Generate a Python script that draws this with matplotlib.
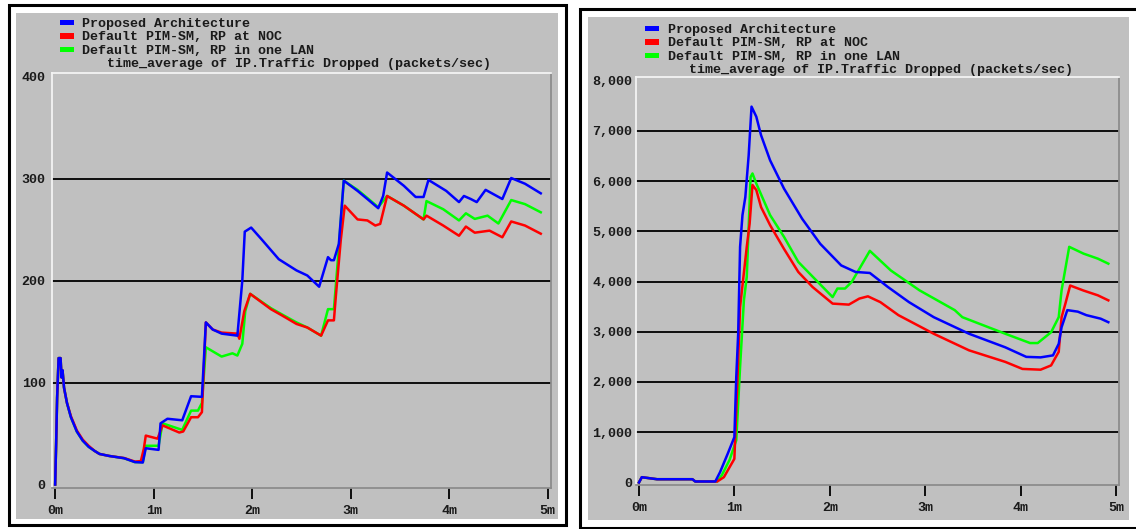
import matplotlib
matplotlib.use("Agg")
import matplotlib.pyplot as plt
from matplotlib.patches import Rectangle

# ---------------- data ----------------
series_names = ["Proposed Architecture", "Default PIM-SM, RP at NOC", "Default PIM-SM, RP in one LAN"]
series_colors = ["#0000FF", "#FF0000", "#00FF00"]
subtitle = "time_average of IP.Traffic Dropped (packets/sec)"

x_ticks = [0, 1, 2, 3, 4, 5]
x_tick_labels = ["0m", "1m", "2m", "3m", "4m", "5m"]

left_yticks = [0, 100, 200, 300, 400]
right_yticks = [0, 1000, 2000, 3000, 4000, 5000, 6000, 7000, 8000]

# Left chart (minutes, packets/sec)
left_blue_t = [0, 0.01, 0.02, 0.035, 0.055, 0.065, 0.075, 0.09, 0.12, 0.16, 0.22, 0.28, 0.34, 0.40, 0.45, 0.55,
               0.70, 0.81, 0.89, 0.92, 1.05, 1.07, 1.14, 1.29, 1.38, 1.49, 1.53, 1.60, 1.69, 1.85, 1.90, 1.925,
               1.99, 2.10, 2.27, 2.45, 2.56, 2.68, 2.77, 2.80, 2.83, 2.88, 2.93, 3.07, 3.17, 3.28, 3.33, 3.37,
               3.54, 3.66, 3.74, 3.79, 3.97, 4.10, 4.15, 4.22, 4.28, 4.37, 4.54, 4.63, 4.77, 4.93]
left_blue_v = [0, 40, 85, 124, 124, 105, 112, 95, 80, 66, 52, 43, 37, 33, 30, 28,
               25.8, 22, 21.6, 35.6, 34, 60, 64.5, 63, 86.6, 86, 159, 152, 148, 146, 200, 248,
               252, 240, 221, 210, 205, 194, 223, 220, 220, 236, 298, 288, 280, 271, 283, 306,
               293, 282, 282, 298.7, 288, 277, 283, 280, 277, 289, 280, 300.6, 295, 285.6]

left_red_t = [0, 0.01, 0.02, 0.035, 0.055, 0.065, 0.075, 0.09, 0.12, 0.16, 0.22, 0.28, 0.34, 0.40, 0.45, 0.55,
              0.70, 0.81, 0.87, 0.90, 0.92, 1.04, 1.09, 1.26, 1.30, 1.38, 1.45, 1.49, 1.53, 1.60, 1.69, 1.85,
              1.87, 1.92, 1.98, 2.19, 2.30, 2.45, 2.56, 2.70, 2.77, 2.83, 2.85, 2.90, 2.94, 3.07, 3.17, 3.25,
              3.30, 3.37, 3.54, 3.74, 3.77, 3.94, 4.10, 4.17, 4.26, 4.41, 4.54, 4.63, 4.77, 4.93]
left_red_v = [0, 40, 85, 124, 124, 105, 112, 95, 80, 67, 53, 44, 38, 33, 30, 28,
              26, 22.5, 23, 35, 48, 45, 58, 51, 52, 66, 66, 71, 159, 152, 149, 148,
              143, 170, 187, 172, 166, 157.5, 154, 146, 161, 161, 185, 240, 273.5, 260, 259, 254,
              255.6, 283, 273.5, 260, 263.7, 254, 244, 253, 247, 249, 242.5, 258, 254, 246]

left_green_t = [0, 0.01, 0.02, 0.035, 0.055, 0.065, 0.075, 0.09, 0.12, 0.16, 0.22, 0.28, 0.34, 0.40, 0.45, 0.55,
                0.70, 0.81, 0.89, 0.92, 1.05, 1.09, 1.29, 1.38, 1.45, 1.49, 1.53, 1.69, 1.80, 1.85, 1.90, 1.93,
                1.98, 2.19, 2.30, 2.45, 2.56, 2.70, 2.77, 2.83, 2.87, 2.93, 3.07, 3.17, 3.28, 3.37, 3.54, 3.74,
                3.77, 3.94, 4.10, 4.17, 4.26, 4.39, 4.50, 4.63, 4.77, 4.93]
left_green_v = [0, 40, 85, 124, 124, 105, 112, 95, 80, 66, 52, 43, 37, 33, 30, 28,
                25.8, 22, 22, 38, 38, 60, 53.6, 72.5, 72.5, 80, 134.6, 125.5, 128.7, 126.5, 138, 170,
                187, 173, 167, 159, 154, 146, 172, 172, 220, 298, 289, 281, 272, 283, 273.5, 260,
                278, 270, 259, 266, 260.5, 263.7, 256, 279, 275, 267]

# Right chart (minutes, packets/sec)
right_blue_t = [0, 0.03, 0.11, 0.19, 0.56, 0.59, 0.80, 0.85, 0.93, 1.00, 1.02, 1.04, 1.06, 1.085, 1.115, 1.15,
                1.18, 1.23, 1.28, 1.375, 1.52, 1.71, 1.90, 2.12, 2.27, 2.42, 2.61, 2.83, 3.09, 3.46, 3.84, 4.06,
                4.21, 4.34, 4.40, 4.43, 4.49, 4.60, 4.69, 4.84, 4.92]
right_blue_v = [0, 105, 85, 65, 65, 20, 20, 206, 571, 903, 2100, 2960, 4690, 5320, 5680, 6510,
                7480, 7280, 6910, 6410, 5850, 5250, 4750, 4320, 4190, 4170, 3890, 3590, 3290, 2960, 2690, 2500,
                2490, 2530, 2760, 3090, 3430, 3400, 3330, 3260, 3190]

right_red_t = [0, 0.03, 0.11, 0.19, 0.56, 0.59, 0.82, 0.89, 1.00, 1.03, 1.06, 1.13, 1.16, 1.19, 1.23, 1.28,
               1.375, 1.52, 1.67, 1.82, 2.03, 2.20, 2.31, 2.40, 2.49, 2.53, 2.72, 3.09, 3.46, 3.84, 4.02, 4.21,
               4.32, 4.40, 4.43, 4.47, 4.52, 4.66, 4.81, 4.92]
right_red_v = [0, 105, 85, 65, 65, 20, 20, 105, 470, 1900, 3490, 4690, 5150, 5920, 5820, 5480,
               5120, 4650, 4190, 3890, 3560, 3540, 3660, 3705, 3625, 3590, 3330, 2960, 2630, 2400, 2260, 2245,
               2330, 2600, 3290, 3560, 3920, 3820, 3725, 3625]

right_green_t = [0, 0.03, 0.11, 0.19, 0.56, 0.59, 0.82, 0.87, 0.95, 1.02, 1.06, 1.10, 1.13, 1.17, 1.19, 1.23,
                 1.375, 1.52, 1.67, 1.86, 2.03, 2.08, 2.16, 2.23, 2.42, 2.64, 2.94, 3.31, 3.39, 3.84, 4.10, 4.18,
                 4.32, 4.40, 4.43, 4.51, 4.66, 4.81, 4.92]
right_green_v = [0, 105, 85, 65, 65, 20, 20, 150, 450, 840, 2300, 3625, 4090, 6080, 6150, 5950,
                 5320, 4890, 4390, 4020, 3690, 3860, 3860, 3990, 4610, 4220, 3825, 3430, 3290, 2960, 2775, 2775,
                 2990, 3290, 3825, 4690, 4555, 4455, 4355]

# ---------------- layout ----------------
W, H = 1136, 529
FONT = "Liberation Mono"
FS = 9.6
FW = "bold"
GRAY = "#C0C0C0"
TXT = "#1A1A1A"

fig = plt.figure(figsize=(W / 100, H / 100), dpi=100)
fig.patch.set_facecolor("white")

bg = fig.add_axes([0, 0, 1, 1], zorder=-10)
bg.set_xlim(0, W)
bg.set_ylim(H, 0)
bg.axis("off")
# panel frames
bg.add_patch(Rectangle((8.7, 4.5), 556.8, 520, facecolor="white", edgecolor="black", lw=2.2))
bg.add_patch(Rectangle((16, 13), 541.7, 506, facecolor=GRAY, edgecolor="none"))
bg.add_patch(Rectangle((580, 8.5), 600, 519.5, facecolor="white", edgecolor="black", lw=2.2))
bg.add_patch(Rectangle((587.7, 17.3), 541.3, 502.7, facecolor=GRAY, edgecolor="none"))


def px_axes(x0, y0, x1, y1):
    return fig.add_axes([x0 / W, 1 - y1 / H, (x1 - x0) / W, (y1 - y0) / H])


def style(ax, yticks, ylim, xlim, ypad):
    ax.set_facecolor(GRAY)
    ax.set_xlim(*xlim)
    ax.set_ylim(*ylim)
    ax.set_xticks(x_ticks)
    ax.set_xticklabels(x_tick_labels, fontfamily=FONT, fontsize=FS, fontweight=FW, color=TXT)
    ax.set_yticks(yticks)
    ax.set_yticklabels([f"{v:,.0f}" for v in yticks], fontfamily=FONT, fontsize=FS, fontweight=FW, color=TXT)
    ax.tick_params(axis="x", direction="out", length=8, width=1.3, color="black", pad=4)
    ax.tick_params(axis="y", length=0, pad=ypad)
    ax.grid(axis="y", color="black", lw=1.3)
    gls = ax.get_ygridlines()
    gls[0].set_visible(False)
    gls[-1].set_visible(False)
    ax.set_axisbelow(True)
    for s in ["top", "left"]:
        ax.spines[s].set_color("#F4F4F4")
        ax.spines[s].set_linewidth(1.3)
    for s in ["right", "bottom"]:
        ax.spines[s].set_color("#8C8C8C")
        ax.spines[s].set_linewidth(1.3)


def legend(x_rect, x_text, x_sub, y_lines):
    for i, name in enumerate(series_names):
        yc = y_lines[i]
        bg.add_patch(Rectangle((x_rect, yc - 4.5), 13.5, 5.8, facecolor=series_colors[i], edgecolor="none"))
        bg.text(x_text, yc, name, fontfamily=FONT, fontsize=FS, fontweight=FW, color=TXT, va="center", ha="left")
    bg.text(x_sub, y_lines[3], subtitle, fontfamily=FONT, fontsize=FS, fontweight=FW, color=TXT,
            va="center", ha="left")


# Left chart
axL = px_axes(52, 72.7, 551, 488)
style(axL, left_yticks, (-3.4, 403.9), (-0.032, 5.034), 4.5)
axL.plot(left_green_t, left_green_v, color=series_colors[2], lw=1.8, zorder=3)
axL.plot(left_red_t, left_red_v, color=series_colors[1], lw=1.8, zorder=4)
axL.plot(left_blue_t, left_blue_v, color=series_colors[0], lw=1.8, zorder=5)
legend(60, 82, 107, [24, 37.5, 51, 64.5])

# Right chart
axR = px_axes(636, 77.3, 1119.3, 485)
style(axR, right_yticks, (-50, 8064), (-0.031, 5.035), 2.5)
axR.plot(right_green_t, right_green_v, color=series_colors[2], lw=1.8, zorder=3)
axR.plot(right_red_t, right_red_v, color=series_colors[1], lw=1.8, zorder=4)
axR.plot(right_blue_t, right_blue_v, color=series_colors[0], lw=1.8, zorder=5)
legend(645, 667.5, 689, [30, 43.5, 57, 70.5])

fig.savefig("out.png", dpi=100, facecolor="white")
